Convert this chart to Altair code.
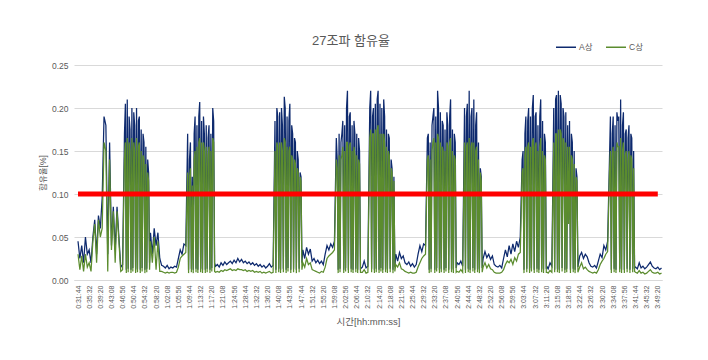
import altair as alt
import pandas as pd

# ---------------- text / categories ----------------
title_text = "27조파 함유율"
x_title = "시간[hh:mm:ss]"
y_title = "함유율[%]"
series_names = ["A상", "C상"]
series_colors = ["#0E2A6E", "#5B8C2E"]
threshold_color = "#FF0000"
threshold = 0.10
y_ticks = [0.00, 0.05, 0.10, 0.15, 0.20, 0.25]

tick_labels = [
    "0:31:44", "0:35:32", "0:39:20", "0:43:08", "0:46:56", "0:50:44", "0:54:32",
    "0:58:20", "1:02:08", "1:05:56", "1:09:44", "1:13:32", "1:17:20", "1:21:08",
    "1:24:56", "1:28:44", "1:32:32", "1:36:20", "1:40:08", "1:43:56", "1:47:44",
    "1:51:32", "1:55:20", "1:59:08", "2:02:56", "2:06:44", "2:10:32", "2:14:20",
    "2:18:08", "2:21:56", "2:25:44", "2:29:32", "2:33:20", "2:37:08", "2:40:56",
    "2:44:44", "2:48:32", "2:52:20", "2:56:08", "2:59:56", "3:03:44", "3:07:32",
    "3:11:20", "3:15:08", "3:18:56", "3:22:44", "3:26:32", "3:30:20", "3:34:08",
    "3:37:56", "3:41:44", "3:45:32", "3:49:20",
]
first_sample_time = "0:31:44"
x_domain_labels = ["0:30:22", "3:50:46"]
threshold_span = ["0:31:44", "3:49:20"]
# sampling interval (seconds) of each stretch below: quiet stretches 38 s, bursts 19 s
region_steps = [38, 19, 38, 19, 38, 19, 38, 19, 38, 19, 38, 19, 38, 19, 38, 19, 38, 19, 38, 19, 38]

# ---------------- series values ----------------
# A상 (navy)
a_r01 = [0.045, 0.025, 0.04, 0.02, 0.05, 0.03, 0.035, 0.02, 0.05, 0.07, 0.03, 0.075, 0.06,
         0.095, 0.19, 0.18, 0.03, 0.16, 0.04, 0.085, 0.035, 0.085, 0.05, 0.015, 0.018]
a_r02 = [0.17, 0.205, 0.012, 0.21, 0.013, 0.19, 0.175, 0.012, 0.2, 0.014, 0.195, 0.18, 0.012,
         0.2, 0.013, 0.185, 0.19, 0.012, 0.175, 0.014, 0.17, 0.16, 0.012, 0.155, 0.013, 0.14,
         0.125, 0.02]
a_r03 = [0.055, 0.03, 0.06, 0.04, 0.055, 0.025, 0.017, 0.016, 0.014, 0.017, 0.013, 0.015,
         0.014, 0.016, 0.015, 0.025, 0.035, 0.03, 0.042, 0.04]
a_r04 = [0.17, 0.012, 0.14, 0.16, 0.013, 0.12, 0.012, 0.17, 0.19, 0.013, 0.18, 0.012, 0.19,
         0.207, 0.013, 0.185, 0.012, 0.19, 0.17, 0.012, 0.18, 0.013, 0.165, 0.18, 0.012, 0.17,
         0.014, 0.2, 0.185, 0.02]
a_r05 = [0.016, 0.018, 0.015, 0.02, 0.017, 0.021, 0.018, 0.02, 0.022, 0.019, 0.023, 0.02,
         0.025, 0.021, 0.024, 0.02, 0.022, 0.019, 0.021, 0.018, 0.02, 0.017, 0.019, 0.016,
         0.018, 0.015, 0.017, 0.014, 0.016, 0.019, 0.015, 0.017]
a_r06 = [0.185, 0.012, 0.2, 0.19, 0.013, 0.195, 0.012, 0.2, 0.18, 0.013, 0.213, 0.2, 0.012,
         0.19, 0.014, 0.185, 0.205, 0.012, 0.18, 0.17, 0.013, 0.165, 0.16, 0.012, 0.15, 0.14,
         0.013, 0.125, 0.12, 0.02]
a_r07 = [0.035, 0.025, 0.038, 0.03, 0.036, 0.022, 0.025, 0.02, 0.023, 0.019, 0.022, 0.018,
         0.03, 0.04, 0.035, 0.042, 0.038, 0.045]
a_r08 = [0.165, 0.14, 0.012, 0.17, 0.013, 0.16, 0.17, 0.185, 0.012, 0.18, 0.014, 0.2, 0.22,
         0.012, 0.19, 0.195, 0.013, 0.18, 0.012, 0.185, 0.17, 0.013, 0.17, 0.012, 0.165, 0.15,
         0.013, 0.014]
a_r09 = [0.015, 0.022, 0.014, 0.016]
a_r10 = [0.2, 0.22, 0.013, 0.19, 0.2, 0.012, 0.205, 0.013, 0.21, 0.22, 0.012, 0.205, 0.014,
         0.2, 0.012, 0.21, 0.19, 0.013, 0.175, 0.012, 0.17, 0.165, 0.013, 0.14, 0.13, 0.012,
         0.12, 0.015]
a_r11 = [0.03, 0.022, 0.032, 0.025, 0.028, 0.02, 0.018, 0.021, 0.016, 0.019, 0.015, 0.018,
         0.03, 0.04, 0.033, 0.042, 0.04]
a_r12 = [0.165, 0.17, 0.012, 0.16, 0.013, 0.18, 0.19, 0.2, 0.012, 0.19, 0.014, 0.22, 0.2,
         0.012, 0.195, 0.013, 0.185, 0.18, 0.012, 0.175, 0.014, 0.195, 0.18, 0.012, 0.19, 0.21,
         0.013, 0.175, 0.012, 0.17, 0.16, 0.014]
a_r13 = [0.02, 0.018, 0.022, 0.016]
a_r14 = [0.2, 0.012, 0.19, 0.205, 0.013, 0.22, 0.012, 0.19, 0.2, 0.014, 0.21, 0.012, 0.18,
         0.195, 0.013, 0.16, 0.012, 0.13, 0.12, 0.014]
a_r15 = [0.025, 0.033, 0.026, 0.03, 0.024, 0.028, 0.018, 0.016, 0.015, 0.017, 0.014, 0.025,
         0.035, 0.027, 0.04, 0.03, 0.042, 0.033, 0.045, 0.038, 0.05]
a_r16 = [0.14, 0.15, 0.012, 0.17, 0.19, 0.013, 0.185, 0.2, 0.012, 0.19, 0.014, 0.2, 0.215,
         0.012, 0.19, 0.195, 0.013, 0.18, 0.012, 0.19, 0.21, 0.013, 0.185, 0.012, 0.17, 0.16,
         0.013, 0.015]
a_r17 = [0.013, 0.02, 0.016]
a_r18 = [0.2, 0.012, 0.21, 0.215, 0.013, 0.22, 0.012, 0.215, 0.205, 0.014, 0.2, 0.19, 0.012,
         0.195, 0.013, 0.18, 0.07, 0.185, 0.012, 0.17, 0.16, 0.013, 0.15, 0.012, 0.13, 0.12]
a_r19 = [0.015, 0.028, 0.032, 0.025, 0.03, 0.027, 0.02, 0.016, 0.015, 0.017, 0.014, 0.022,
         0.03, 0.026, 0.04, 0.035, 0.045]
a_r20 = [0.14, 0.19, 0.012, 0.17, 0.19, 0.013, 0.18, 0.012, 0.195, 0.185, 0.19, 0.013, 0.21,
         0.012, 0.18, 0.195, 0.012, 0.17, 0.175, 0.013, 0.165, 0.18, 0.012, 0.17, 0.165, 0.013,
         0.15, 0.014]
a_r21 = [0.015, 0.013, 0.02, 0.014, 0.016, 0.013, 0.015, 0.018, 0.021, 0.016, 0.014, 0.013,
         0.015, 0.012, 0.014]

# C상 (green)
c_r01 = [0.03, 0.012, 0.028, 0.01, 0.03, 0.015, 0.02, 0.01, 0.045, 0.065, 0.02, 0.07, 0.05,
         0.06, 0.16, 0.15, 0.01, 0.14, 0.035, 0.08, 0.02, 0.08, 0.045, 0.01, 0.012]
c_r02 = [0.14, 0.16, 0.008, 0.165, 0.009, 0.16, 0.15, 0.008, 0.165, 0.01, 0.16, 0.15, 0.008,
         0.165, 0.009, 0.155, 0.16, 0.008, 0.15, 0.01, 0.145, 0.14, 0.008, 0.135, 0.009, 0.125,
         0.115, 0.012]
c_r03 = [0.045, 0.02, 0.05, 0.012, 0.045, 0.01, 0.01, 0.009, 0.008, 0.009, 0.008, 0.009,
         0.009, 0.008, 0.009, 0.015, 0.025, 0.028, 0.03, 0.032]
c_r04 = [0.125, 0.008, 0.12, 0.13, 0.009, 0.11, 0.008, 0.14, 0.15, 0.009, 0.155, 0.008, 0.16,
         0.165, 0.009, 0.16, 0.008, 0.16, 0.15, 0.008, 0.155, 0.009, 0.145, 0.155, 0.008, 0.15,
         0.01, 0.165, 0.16, 0.01]
c_r05 = [0.009, 0.01, 0.009, 0.011, 0.01, 0.012, 0.011, 0.012, 0.013, 0.011, 0.012, 0.011,
         0.013, 0.012, 0.012, 0.011, 0.012, 0.01, 0.011, 0.01, 0.011, 0.009, 0.01, 0.009,
         0.01, 0.008, 0.009, 0.008, 0.009, 0.01, 0.008, 0.009]
c_r06 = [0.15, 0.008, 0.16, 0.155, 0.009, 0.16, 0.008, 0.16, 0.15, 0.009, 0.165, 0.16, 0.008,
         0.155, 0.01, 0.15, 0.155, 0.008, 0.145, 0.14, 0.009, 0.14, 0.135, 0.008, 0.13, 0.125,
         0.009, 0.12, 0.115, 0.012]
c_r07 = [0.02, 0.015, 0.025, 0.018, 0.02, 0.012, 0.011, 0.01, 0.009, 0.008, 0.01, 0.009,
         0.015, 0.025, 0.028, 0.03, 0.032, 0.035]
c_r08 = [0.14, 0.13, 0.008, 0.145, 0.009, 0.14, 0.145, 0.155, 0.008, 0.15, 0.01, 0.16, 0.16,
         0.008, 0.155, 0.16, 0.009, 0.15, 0.008, 0.155, 0.145, 0.009, 0.145, 0.008, 0.14, 0.135,
         0.009, 0.009]
c_r09 = [0.009, 0.012, 0.008, 0.009]
c_r10 = [0.165, 0.175, 0.009, 0.17, 0.17, 0.008, 0.175, 0.009, 0.175, 0.18, 0.008, 0.17, 0.01,
         0.17, 0.008, 0.17, 0.16, 0.009, 0.155, 0.008, 0.15, 0.145, 0.009, 0.13, 0.125, 0.008,
         0.115, 0.01]
c_r11 = [0.018, 0.015, 0.02, 0.013, 0.012, 0.01, 0.009, 0.008, 0.009, 0.008, 0.008, 0.009,
         0.015, 0.02, 0.025, 0.028, 0.03]
c_r12 = [0.14, 0.145, 0.008, 0.14, 0.009, 0.15, 0.16, 0.165, 0.008, 0.16, 0.01, 0.17, 0.165,
         0.008, 0.16, 0.009, 0.155, 0.15, 0.008, 0.15, 0.01, 0.16, 0.155, 0.008, 0.16, 0.165,
         0.009, 0.15, 0.008, 0.145, 0.14, 0.009]
c_r13 = [0.01, 0.009, 0.012, 0.009]
c_r14 = [0.16, 0.008, 0.155, 0.16, 0.009, 0.165, 0.008, 0.155, 0.16, 0.01, 0.16, 0.008, 0.15,
         0.155, 0.009, 0.14, 0.008, 0.125, 0.115, 0.009]
c_r15 = [0.015, 0.02, 0.014, 0.018, 0.013, 0.012, 0.009, 0.008, 0.008, 0.008, 0.009, 0.012,
         0.018, 0.022, 0.02, 0.024, 0.018, 0.026, 0.022, 0.03, 0.032]
c_r16 = [0.125, 0.13, 0.008, 0.145, 0.155, 0.009, 0.155, 0.16, 0.008, 0.155, 0.01, 0.16, 0.165,
         0.008, 0.155, 0.16, 0.009, 0.15, 0.008, 0.155, 0.165, 0.009, 0.15, 0.008, 0.145, 0.14,
         0.009, 0.009]
c_r17 = [0.008, 0.011, 0.009]
c_r18 = [0.16, 0.009, 0.17, 0.17, 0.009, 0.175, 0.008, 0.175, 0.17, 0.01, 0.165, 0.16, 0.008,
         0.16, 0.009, 0.155, 0.065, 0.155, 0.008, 0.145, 0.14, 0.009, 0.135, 0.008, 0.12, 0.115]
c_r19 = [0.009, 0.015, 0.02, 0.013, 0.015, 0.012, 0.01, 0.009, 0.008, 0.009, 0.008, 0.012,
         0.018, 0.022, 0.025, 0.03, 0.033]
c_r20 = [0.125, 0.15, 0.008, 0.145, 0.155, 0.009, 0.15, 0.008, 0.16, 0.155, 0.155, 0.009, 0.165,
         0.008, 0.15, 0.16, 0.008, 0.145, 0.15, 0.009, 0.14, 0.15, 0.008, 0.145, 0.14, 0.009,
         0.13, 0.01]
c_r21 = [0.009, 0.008, 0.011, 0.008, 0.009, 0.007, 0.008, 0.01, 0.012, 0.009, 0.008, 0.008,
         0.009, 0.007, 0.008]

a_regions = [a_r01, a_r02, a_r03, a_r04, a_r05, a_r06, a_r07, a_r08, a_r09, a_r10, a_r11,
             a_r12, a_r13, a_r14, a_r15, a_r16, a_r17, a_r18, a_r19, a_r20, a_r21]
c_regions = [c_r01, c_r02, c_r03, c_r04, c_r05, c_r06, c_r07, c_r08, c_r09, c_r10, c_r11,
             c_r12, c_r13, c_r14, c_r15, c_r16, c_r17, c_r18, c_r19, c_r20, c_r21]

# ---------------- build table ----------------
def to_sec(s):
    h, m, sec = (int(p) for p in s.split(":"))
    return h * 3600 + m * 60 + sec


def series_frame(regions, name):
    rows = []
    start = to_sec(first_sample_time)
    for vals, step in zip(regions, region_steps):
        for k, v in enumerate(vals):
            rows.append({"t": start + step * k, "v": v, "s": name})
        start += step * len(vals)
    return pd.DataFrame(rows)


df_a = series_frame(a_regions, series_names[0])
df_c = series_frame(c_regions, series_names[1])
df_thr = pd.DataFrame({"t": [to_sec(threshold_span[0])], "t2": [to_sec(threshold_span[1])],
                       "v": [threshold]})

tick_secs = [to_sec(s) for s in tick_labels]
x_dom = [to_sec(s) for s in x_domain_labels]

label_expr = ("floor(datum.value/3600) + ':' + (floor(datum.value/60)%60 < 10 ? '0' : '') + "
              "(floor(datum.value/60)%60) + ':' + (datum.value%60 < 10 ? '0' : '') + (datum.value%60)")

GRAY = "#595959"

x_axis = alt.Axis(
    values=tick_secs, labelExpr=label_expr, labelAngle=-90, labelFontSize=7,
    labelColor=GRAY, labelPadding=5, labelOverlap=False, labelFlush=False,
    labelBound=False, ticks=False, grid=False, domainColor="#D9D9D9", domainWidth=1,
    title=x_title, titleFontSize=9.5, titleColor=GRAY, titleFontWeight="normal",
    titlePadding=8,
)
y_axis = alt.Axis(
    values=y_ticks, format=".2f", labelFontSize=8.5, labelColor=GRAY, labelPadding=6,
    ticks=False, domain=False, grid=True, gridColor="#D9D9D9", gridWidth=1,
    title=y_title, titleFontSize=8.5, titleColor=GRAY, titleFontWeight="normal",
    titlePadding=4,
)
x_scale = alt.Scale(domain=x_dom, nice=False, zero=False)
y_scale = alt.Scale(domain=[0, 0.25], nice=False)

x_enc = alt.X("t:Q", scale=x_scale, axis=x_axis)
y_enc = alt.Y("v:Q", scale=y_scale, axis=y_axis)
color_enc = alt.Color(
    "s:N",
    scale=alt.Scale(domain=series_names, range=series_colors),
    legend=alt.Legend(
        title=None, orient="none", direction="horizontal", legendX=481, legendY=-29,
        symbolType="stroke", symbolSize=400, symbolStrokeWidth=1.5,
        labelFontSize=8.5, labelColor=GRAY, labelOffset=2, columnPadding=10,
    ),
)

line_a = alt.Chart(df_a).mark_line(strokeWidth=1.25).encode(x=x_enc, y=y_enc, color=color_enc)
line_c = alt.Chart(df_c).mark_line(strokeWidth=1.25).encode(x=x_enc, y=y_enc, color=color_enc)
rule = alt.Chart(df_thr).mark_rule(color=threshold_color, strokeWidth=5).encode(
    x=x_enc, x2="t2:Q", y=y_enc
)

chart = (
    alt.layer(line_a, line_c, rule)
    .properties(
        width=588,
        height=215,
        title=alt.TitleParams(
            text=title_text, fontSize=13, color=GRAY, fontWeight="normal",
            anchor="middle", dx=-17, offset=-12,
        ),
        autosize=alt.AutoSizeParams(type="none"),
        padding={"left": 66, "top": 57, "right": 30, "bottom": 60},
    )
    .configure(font="Liberation Sans, Noto Sans CJK KR")
    .configure_view(stroke=None)
)

chart.save("out.html", embed_options={"renderer": "svg", "actions": False})
